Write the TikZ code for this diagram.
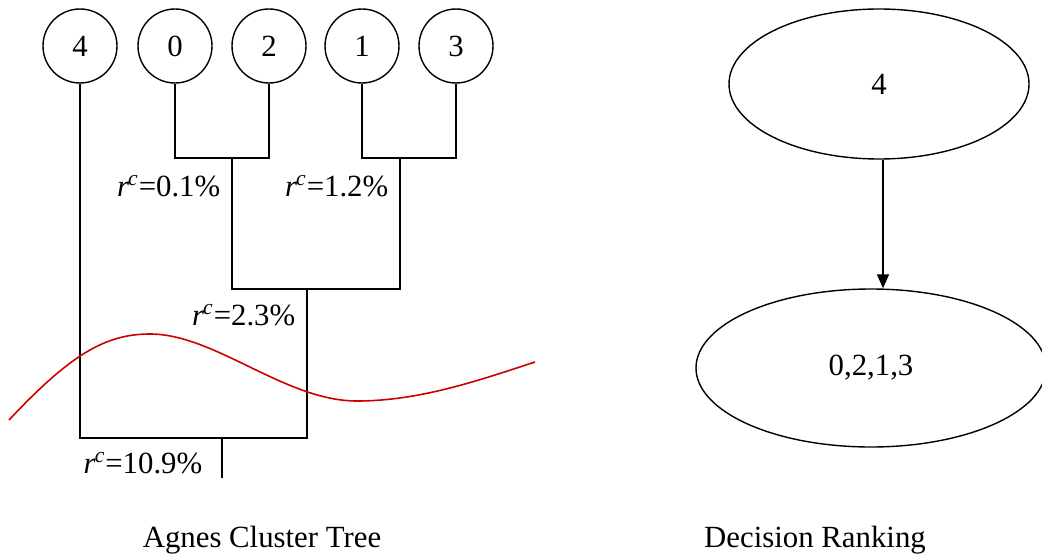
\documentclass[tikz,border=0pt]{standalone}
\usepackage{fontspec}
\setmainfont{Liberation Serif}
\usetikzlibrary{arrows.meta,shapes.geometric}
\tikzset{
  leaf/.style={draw, circle, minimum size=37pt, inner sep=0pt},
  rank/.style={draw, ellipse, inner sep=0pt},
  rc/.style={anchor=east, inner sep=0pt}
}
\newcommand{\rcval}[1]{\textit{r}\kern-0.5pt\textsuperscript{\textit{c}}=#1}
\begin{document}
\begin{tikzpicture}[x=0.5pt, y=-0.5pt, line width=0.7pt, font=\fontsize{15.4}{18}\selectfont]
            \useasboundingbox (0,0) rectangle (1042,556);
            % cluster tree
            \foreach \n/\x in {4/80,0/175,2/269,1/362,3/456} \node[leaf] (n\n) at (\x,46) {\n};
            \coordinate (j02) at (232,158);
            \coordinate (j13) at (400,158);
            \coordinate (m1) at (307,289);
            \coordinate (root) at (222,438);
            \coordinate (stem) at (222,478);
            \draw (n0.south) |- (j02) -| (n2.south);
            \draw (n1.south) |- (j13) -| (n3.south);
            \draw (j02) |- (m1) -| (j13);
            \draw (n4.south) |- (root) -| (m1);
            \draw (root) -- (stem);
            \node[rc] (r1) at (221,186) {\rcval{0.1\%}};
            \node[rc] (r2) at (389,186) {\rcval{1.2\%}};
            \node[rc] (r3) at (296,315) {\rcval{2.3\%}};
            \node[rc] (r4) at (203,463) {\rcval{10.9\%}};
            \draw[red!80!black, line width=0.8pt] (9,420) .. controls (70,355) and (105,334) .. (150,334)
              .. controls (215,334) and (285,401) .. (357,401)
              .. controls (420,401) and (480,380) .. (535,362);
            % decision ranking
            \node[rank, minimum width=150pt, minimum height=75pt] (top) at (879,84) {4};
            \node[rank, minimum width=175pt, minimum height=79pt] (bot) at (871,368) {0,2,1,3};
            \draw[-{Triangle[width=6pt,length=7pt]}] (top.south -| 883,0) -- (bot.north -| 883,0);
            \node (cap1) at (262,540) {Agnes Cluster Tree};
            \node (cap2) at (815,540) {Decision Ranking};
    \end{tikzpicture}
\end{document}
